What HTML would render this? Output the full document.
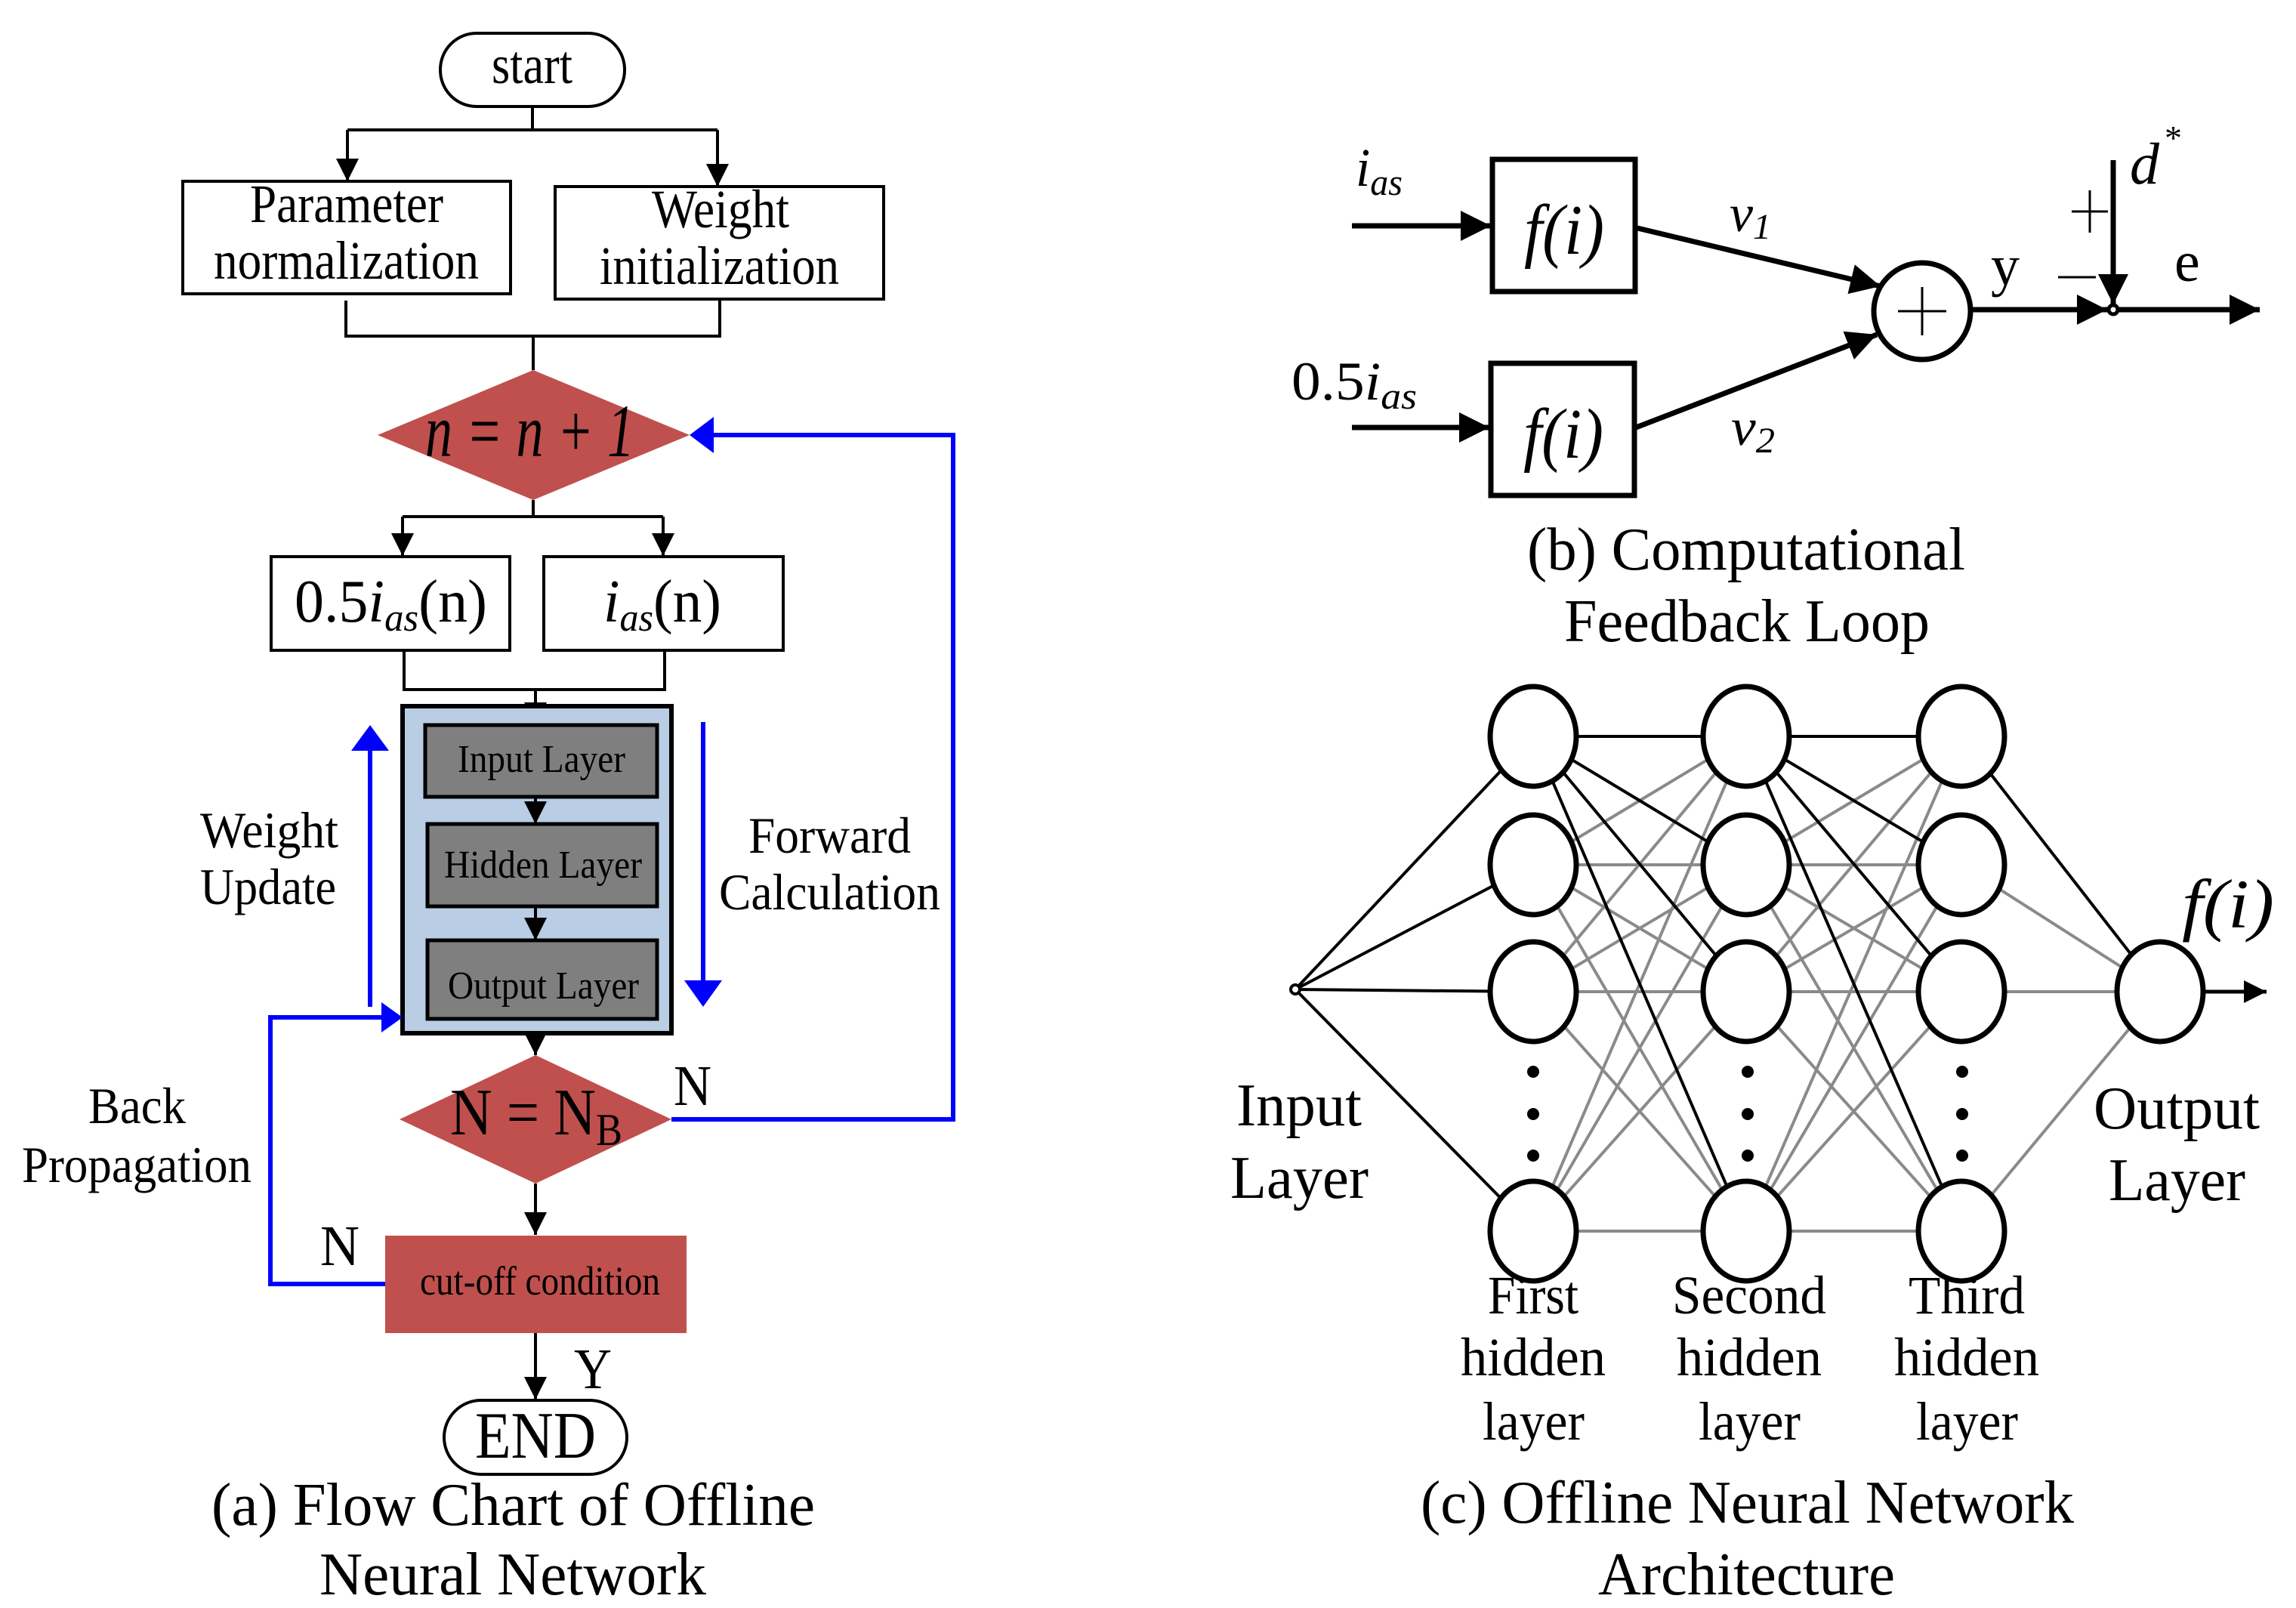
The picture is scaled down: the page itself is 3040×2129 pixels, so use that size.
<!DOCTYPE html>
<html><head><meta charset="utf-8"><style>
html,body{margin:0;padding:0;background:#fff}
svg{display:block}
text{font-family:"Liberation Serif",serif;fill:#000}
.n{font-family:"Liberation Sans Narrow","Liberation Serif",serif}
</style></head><body>
<svg width="3040" height="2129" viewBox="0 0 3040 2129" xmlns="http://www.w3.org/2000/svg">
<defs>
<marker id="ak" viewBox="0 0 10 10" refX="10" refY="5" markerWidth="30" markerHeight="30" markerUnits="userSpaceOnUse" orient="auto"><path d="M0,0 L10,5 L0,10z" fill="#000"/></marker>
<marker id="aw" viewBox="0 0 10 10" refX="10" refY="5" markerWidth="40" markerHeight="40" markerUnits="userSpaceOnUse" orient="auto"><path d="M0,0 L10,5 L0,10z" fill="#000"/></marker>
</defs>

<!-- ===== (a) Flow chart ===== -->
<g stroke="#000" stroke-width="4" fill="none">
<rect x="583" y="44" width="244" height="97" rx="48"/>
<path d="M705 141 V172 M460 172 H950"/>
<line x1="460" y1="172" x2="460" y2="240" marker-end="url(#ak)"/>
<line x1="950" y1="172" x2="950" y2="247" marker-end="url(#ak)"/>
<rect x="242" y="240" width="434" height="149"/>
<rect x="735" y="247" width="435" height="149"/>
<path d="M458 398 V445 H953 V398 M706 445 V490"/>
<path d="M706 662 V684 M533 684 H878"/>
<line x1="533" y1="684" x2="533" y2="736" marker-end="url(#ak)"/>
<line x1="878" y1="684" x2="878" y2="736" marker-end="url(#ak)"/>
<rect x="359" y="737" width="316" height="124"/>
<rect x="720" y="737" width="317" height="124"/>
<path d="M535 861 V913 H880 V861"/>
<line x1="709" y1="913" x2="709" y2="960" marker-end="url(#ak)"/>
</g>
<polygon points="500,576 706,490 913,576 706,662" fill="#c0504d"/>
<text x="563" y="604" font-size="100" font-style="italic" textLength="277" lengthAdjust="spacingAndGlyphs">n = n + 1</text>
<text x="651" y="110" font-size="72" textLength="107" lengthAdjust="spacingAndGlyphs">start</text>
<text x="331" y="294" font-size="72" textLength="256" lengthAdjust="spacingAndGlyphs">Parameter</text>
<text x="283" y="369" font-size="72" textLength="351" lengthAdjust="spacingAndGlyphs">normalization</text>
<text x="863" y="301" font-size="72" textLength="182" lengthAdjust="spacingAndGlyphs">Weight</text>
<text x="794" y="376" font-size="72" textLength="317" lengthAdjust="spacingAndGlyphs">initialization</text>
<text x="390" y="823" font-size="80" textLength="255" lengthAdjust="spacingAndGlyphs">0.5<tspan font-style="italic">i</tspan><tspan font-style="italic" font-size="52" dy="12">as</tspan><tspan dy="-12">(n)</tspan></text>
<text x="799" y="823" font-size="80" textLength="156" lengthAdjust="spacingAndGlyphs"><tspan font-style="italic">i</tspan><tspan font-style="italic" font-size="52" dy="12">as</tspan><tspan dy="-12">(n)</tspan></text>

<!-- NN block -->
<rect x="533" y="935" width="356" height="433" fill="#b9cde5" stroke="#000" stroke-width="6"/>
<rect x="563" y="960" width="307" height="95" fill="#7f7f7f" stroke="#000" stroke-width="5"/>
<rect x="566" y="1091" width="304" height="109" fill="#7f7f7f" stroke="#000" stroke-width="5"/>
<rect x="566" y="1245" width="304" height="104" fill="#7f7f7f" stroke="#000" stroke-width="5"/>
<g stroke="#000" stroke-width="4">
<line x1="709" y1="1055" x2="709" y2="1091" marker-end="url(#ak)"/>
<line x1="709" y1="1200" x2="709" y2="1245" marker-end="url(#ak)"/>
<line x1="709" y1="1368" x2="709" y2="1397" marker-end="url(#ak)"/>
<line x1="709" y1="1567" x2="709" y2="1635" marker-end="url(#ak)"/>
<line x1="709" y1="1765" x2="709" y2="1853" marker-end="url(#ak)"/>
</g>
<text x="606" y="1022" font-size="52" textLength="222" lengthAdjust="spacingAndGlyphs">Input Layer</text>
<text x="588" y="1162" font-size="52" textLength="262" lengthAdjust="spacingAndGlyphs">Hidden Layer</text>
<text x="593" y="1322" font-size="52" textLength="253" lengthAdjust="spacingAndGlyphs">Output Layer</text>

<polygon points="529,1482 709,1397 889,1482 709,1567" fill="#c0504d"/>
<text x="596" y="1502" font-size="88" textLength="228" lengthAdjust="spacingAndGlyphs">N = N<tspan font-size="60" dy="14">B</tspan></text>
<rect x="510" y="1636" width="399" height="129" fill="#c0504d"/>
<text x="556" y="1714" font-size="54" textLength="318" lengthAdjust="spacingAndGlyphs">cut-off condition</text>
<rect x="588" y="1854" width="242" height="98" rx="49" fill="#fff" stroke="#000" stroke-width="4"/>
<text x="629" y="1930" font-size="88" textLength="160" lengthAdjust="spacingAndGlyphs">END</text>
<text x="892" y="1463" font-size="76" textLength="50" lengthAdjust="spacingAndGlyphs">N</text>
<text x="424" y="1675" font-size="76" textLength="52" lengthAdjust="spacingAndGlyphs">N</text>
<text x="760" y="1838" font-size="76" textLength="50" lengthAdjust="spacingAndGlyphs">Y</text>

<!-- blue lines -->
<g stroke="#0000ff" stroke-width="6" fill="none">
<path d="M889 1482 H1262 V576 H945"/>
<path d="M510 1700 H358 V1347 H505"/>
<line x1="490" y1="1333" x2="490" y2="990"/>
<line x1="931" y1="956" x2="931" y2="1300"/>
</g>
<polygon points="913,576 945,552 945,600" fill="#0000ff"/>
<polygon points="533,1347 505,1327 505,1367" fill="#0000ff"/>
<polygon points="490,960 465,994 515,994" fill="#0000ff"/>
<polygon points="931,1333 906,1298 956,1298" fill="#0000ff"/>

<text x="265" y="1122" font-size="68" textLength="183" lengthAdjust="spacingAndGlyphs">Weight</text>
<text x="265" y="1197" font-size="68" textLength="180" lengthAdjust="spacingAndGlyphs">Update</text>
<text x="991" y="1129" font-size="68" textLength="215" lengthAdjust="spacingAndGlyphs">Forward</text>
<text x="952" y="1204" font-size="68" textLength="293" lengthAdjust="spacingAndGlyphs">Calculation</text>
<text x="117" y="1487" font-size="68" textLength="129" lengthAdjust="spacingAndGlyphs">Back</text>
<text x="29" y="1565" font-size="68" textLength="304" lengthAdjust="spacingAndGlyphs">Propagation</text>
<text x="280" y="2019" font-size="80" textLength="799" lengthAdjust="spacingAndGlyphs">(a) Flow Chart of Offline</text>
<text x="423" y="2111" font-size="80" textLength="512" lengthAdjust="spacingAndGlyphs">Neural Network</text>

<!-- ===== (b) feedback loop ===== -->
<g stroke="#000" stroke-width="7" fill="none">
<rect x="1976" y="211" width="189" height="175"/>
<rect x="1974" y="481" width="190" height="175"/>
<line x1="1790" y1="299" x2="1974" y2="299" marker-end="url(#aw)"/>
<line x1="1790" y1="566" x2="1972" y2="566" marker-end="url(#aw)"/>
<line x1="2168" y1="302" x2="2490" y2="379" marker-end="url(#aw)"/>
<line x1="2166" y1="566" x2="2485" y2="443" marker-end="url(#aw)"/>
<circle cx="2545" cy="412" r="64"/>
<line x1="2609" y1="410" x2="2790" y2="410" marker-end="url(#aw)"/>
<line x1="2806" y1="410" x2="2992" y2="410" marker-end="url(#aw)"/>
<line x1="2798" y1="212" x2="2798" y2="403" marker-end="url(#aw)"/>
<circle cx="2798" cy="410" r="6" stroke-width="5" fill="#fff"/>
</g>
<g stroke="#000" stroke-width="3"><path d="M2545 380 V444 M2513 412 H2577"/></g>
<text x="2018" y="336" font-size="94" font-style="italic" textLength="106" lengthAdjust="spacingAndGlyphs">f(i)</text>
<text x="2017" y="606" font-size="94" font-style="italic" textLength="106" lengthAdjust="spacingAndGlyphs">f(i)</text>
<text x="1795" y="246" font-size="72" font-style="italic" textLength="62" lengthAdjust="spacingAndGlyphs">i<tspan font-size="50" dy="12">as</tspan></text>
<text x="1710" y="529" font-size="72" textLength="166" lengthAdjust="spacingAndGlyphs">0.5<tspan font-style="italic">i</tspan><tspan font-style="italic" font-size="50" dy="12">as</tspan></text>
<text x="2290" y="306" font-size="70" font-style="italic" textLength="55" lengthAdjust="spacingAndGlyphs">v<tspan font-size="48" dy="10">1</tspan></text>
<text x="2292" y="589" font-size="70" font-style="italic" textLength="58" lengthAdjust="spacingAndGlyphs">v<tspan font-size="48" dy="10">2</tspan></text>
<text x="2636" y="377" font-size="76">y</text>
<text x="2879" y="372" font-size="76">e</text>
<text x="2820" y="243" font-size="78" font-style="italic">d</text>
<text x="2866" y="198" font-size="46">*</text>
<g stroke="#000" stroke-width="3"><path d="M2743 280 H2791 M2767 252 V308 M2725 367 H2775"/></g>
<text x="2022" y="754" font-size="80" textLength="580" lengthAdjust="spacingAndGlyphs">(b) Computational</text>
<text x="2071" y="849" font-size="80" textLength="484" lengthAdjust="spacingAndGlyphs">Feedback Loop</text>

<!-- ===== (c) NN architecture ===== -->
<g stroke-width="4" fill="none">
<g stroke="#000">
<line x1="1715" y1="1310" x2="2030" y2="975"/>
<line x1="1715" y1="1310" x2="2030" y2="1145"/>
<line x1="1715" y1="1310" x2="2030" y2="1313"/>
<line x1="1715" y1="1310" x2="2030" y2="1630"/>
</g>
<g stroke="#8a8a8a">
<line x1="2030" y1="1145" x2="2312" y2="975"/><line x1="2030" y1="1145" x2="2312" y2="1145"/><line x1="2030" y1="1145" x2="2312" y2="1313"/><line x1="2030" y1="1145" x2="2312" y2="1630"/>
<line x1="2030" y1="1313" x2="2312" y2="975"/><line x1="2030" y1="1313" x2="2312" y2="1145"/><line x1="2030" y1="1313" x2="2312" y2="1313"/><line x1="2030" y1="1313" x2="2312" y2="1630"/>
<line x1="2030" y1="1630" x2="2312" y2="975"/><line x1="2030" y1="1630" x2="2312" y2="1145"/><line x1="2030" y1="1630" x2="2312" y2="1313"/><line x1="2030" y1="1630" x2="2312" y2="1630"/>
<line x1="2312" y1="1145" x2="2597" y2="975"/><line x1="2312" y1="1145" x2="2597" y2="1145"/><line x1="2312" y1="1145" x2="2597" y2="1313"/><line x1="2312" y1="1145" x2="2597" y2="1630"/>
<line x1="2312" y1="1313" x2="2597" y2="975"/><line x1="2312" y1="1313" x2="2597" y2="1145"/><line x1="2312" y1="1313" x2="2597" y2="1313"/><line x1="2312" y1="1313" x2="2597" y2="1630"/>
<line x1="2312" y1="1630" x2="2597" y2="975"/><line x1="2312" y1="1630" x2="2597" y2="1145"/><line x1="2312" y1="1630" x2="2597" y2="1313"/><line x1="2312" y1="1630" x2="2597" y2="1630"/>
<line x1="2597" y1="1145" x2="2860" y2="1313"/><line x1="2597" y1="1313" x2="2860" y2="1313"/><line x1="2597" y1="1630" x2="2860" y2="1313"/>
</g>
<g stroke="#000">
<line x1="2030" y1="975" x2="2312" y2="975"/><line x1="2030" y1="975" x2="2312" y2="1145"/><line x1="2030" y1="975" x2="2312" y2="1313"/><line x1="2030" y1="975" x2="2312" y2="1630"/>
<line x1="2312" y1="975" x2="2597" y2="975"/><line x1="2312" y1="975" x2="2597" y2="1145"/><line x1="2312" y1="975" x2="2597" y2="1313"/><line x1="2312" y1="975" x2="2597" y2="1630"/>
<line x1="2597" y1="975" x2="2860" y2="1313"/>
</g>
</g>
<g stroke="#000" stroke-width="7" fill="#fff">
<ellipse cx="2030" cy="975" rx="57" ry="66"/><ellipse cx="2030" cy="1145" rx="57" ry="66"/><ellipse cx="2030" cy="1313" rx="57" ry="66"/><ellipse cx="2030" cy="1630" rx="57" ry="66"/>
<ellipse cx="2312" cy="975" rx="57" ry="66"/><ellipse cx="2312" cy="1145" rx="57" ry="66"/><ellipse cx="2312" cy="1313" rx="57" ry="66"/><ellipse cx="2312" cy="1630" rx="57" ry="66"/>
<ellipse cx="2597" cy="975" rx="57" ry="66"/><ellipse cx="2597" cy="1145" rx="57" ry="66"/><ellipse cx="2597" cy="1313" rx="57" ry="66"/><ellipse cx="2597" cy="1630" rx="57" ry="66"/>
<ellipse cx="2860" cy="1313" rx="57" ry="66"/>
</g>
<circle cx="1715" cy="1310" r="6" fill="#fff" stroke="#000" stroke-width="4"/>
<line x1="2917" y1="1313" x2="3001" y2="1313" stroke="#000" stroke-width="5" marker-end="url(#ak)"/>
<g fill="#000">
<circle cx="2030" cy="1419" r="8"/><circle cx="2030" cy="1475" r="8"/><circle cx="2030" cy="1530" r="8"/>
<circle cx="2314" cy="1419" r="8"/><circle cx="2314" cy="1475" r="8"/><circle cx="2314" cy="1530" r="8"/>
<circle cx="2598" cy="1419" r="8"/><circle cx="2598" cy="1475" r="8"/><circle cx="2598" cy="1530" r="8"/>
</g>
<text x="2889" y="1228" font-size="92" font-style="italic" textLength="122" lengthAdjust="spacingAndGlyphs">f(i)</text>
<text x="1637" y="1490" font-size="80" textLength="166" lengthAdjust="spacingAndGlyphs">Input</text>
<text x="1629" y="1586" font-size="80" textLength="183" lengthAdjust="spacingAndGlyphs">Layer</text>
<text x="2772" y="1494" font-size="80" textLength="220" lengthAdjust="spacingAndGlyphs">Output</text>
<text x="2792" y="1589" font-size="80" textLength="181" lengthAdjust="spacingAndGlyphs">Layer</text>
<g font-size="72" lengthAdjust="spacingAndGlyphs">
<text x="1970" y="1739" textLength="120" lengthAdjust="spacingAndGlyphs">First</text>
<text x="1934" y="1821" textLength="192" lengthAdjust="spacingAndGlyphs">hidden</text>
<text x="1963" y="1906" textLength="135" lengthAdjust="spacingAndGlyphs">layer</text>
<text x="2214" y="1739" textLength="204" lengthAdjust="spacingAndGlyphs">Second</text>
<text x="2220" y="1821" textLength="192" lengthAdjust="spacingAndGlyphs">hidden</text>
<text x="2249" y="1906" textLength="135" lengthAdjust="spacingAndGlyphs">layer</text>
<text x="2527" y="1739" textLength="154" lengthAdjust="spacingAndGlyphs">Third</text>
<text x="2508" y="1821" textLength="192" lengthAdjust="spacingAndGlyphs">hidden</text>
<text x="2537" y="1906" textLength="135" lengthAdjust="spacingAndGlyphs">layer</text>
</g>
<text x="1881" y="2016" font-size="80" textLength="865" lengthAdjust="spacingAndGlyphs">(c) Offline Neural Network</text>
<text x="2116" y="2111" font-size="80" textLength="393" lengthAdjust="spacingAndGlyphs">Architecture</text>
</svg>
</body></html>
